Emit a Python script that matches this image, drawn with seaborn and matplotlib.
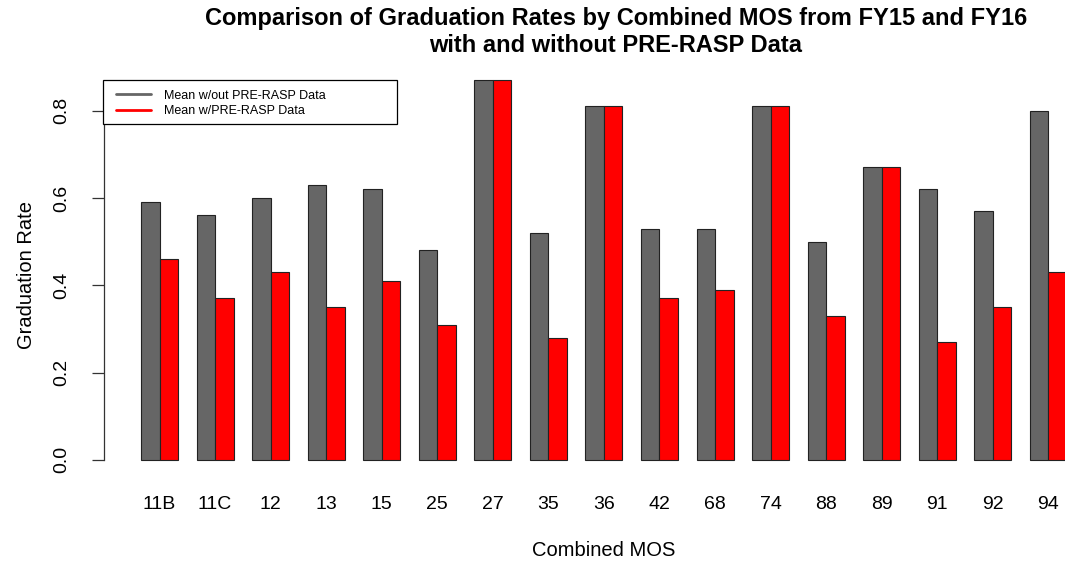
import seaborn as sns
import pandas as pd
import matplotlib.pyplot as plt
from matplotlib.lines import Line2D
from matplotlib.patches import Rectangle

mos = ["11B", "11C", "12", "13", "15", "25", "27", "35", "36",
       "42", "68", "74", "88", "89", "91", "92", "94"]
rate_without = [0.59, 0.56, 0.60, 0.63, 0.62, 0.48, 0.87, 0.52, 0.81,
                0.53, 0.53, 0.81, 0.50, 0.67, 0.62, 0.57, 0.80]
rate_with = [0.46, 0.37, 0.43, 0.35, 0.41, 0.31, 0.87, 0.28, 0.81,
             0.37, 0.39, 0.81, 0.33, 0.67, 0.27, 0.35, 0.43]
series = ["Mean w/out PRE-RASP Data", "Mean w/PRE-RASP Data"]
colors = ["#666666", "#ff0000"]

df = pd.DataFrame({
    "MOS": mos * 2,
    "rate": rate_without + rate_with,
    "series": [series[0]] * len(mos) + [series[1]] * len(mos),
})

sns.set_style("white")
plt.rcParams['font.family'] = ['Liberation Sans', 'DejaVu Sans']
plt.rcParams.update({'text.color': 'black', 'xtick.color': 'black',
                     'ytick.color': 'black', 'axes.labelcolor': 'black'})

fig = plt.figure(figsize=(10.65, 5.65), dpi=100)
ax = fig.add_axes([104 / 1065, 90 / 565, 961 / 1065, 410 / 565])

sns.barplot(df, x="MOS", y="rate", hue="series", order=mos, hue_order=series,
            palette=colors, width=2 / 3, gap=0, saturation=1,
            edgecolor="#222222", linewidth=0.8, legend=False, ax=ax)

ax.set_xlim(-1, 16.3)
ax.set_ylim(-0.0348, 0.9048)
ax.set_yticks([0, 0.2, 0.4, 0.6, 0.8])
ax.set_yticklabels(["0.0", "0.2", "0.4", "0.6", "0.8"], rotation=90, va="center")
ax.tick_params(axis="y", length=9, width=0.9, color="#333333", pad=15, labelsize=14, left=True)
ax.tick_params(axis="x", length=0, pad=15, labelsize=14)
for s in ["top", "right", "bottom"]:
    ax.spines[s].set_visible(False)
ax.spines["left"].set_bounds(0, 0.8)
ax.spines["left"].set_color("#333333")
ax.spines["left"].set_linewidth(0.9)
ax.set_xlabel("")
ax.set_ylabel("")

fig.text(27 / 1065, 1 - 275 / 565, "Graduation Rate", rotation=90,
         ha="center", va="center", fontsize=14.5)
fig.text(604 / 1065, 1 - 551 / 565, "Combined MOS", ha="center", va="center", fontsize=14.5)
fig.text(616 / 1065, 1 - 32 / 565,
         "Comparison of Graduation Rates by Combined MOS from FY15 and FY16\nwith and without PRE-RASP Data",
         ha="center", va="center", fontsize=17, fontweight="bold", linespacing=1.25)

# legend box drawn like R's (wide right padding)
fig.patches.append(Rectangle((103 / 1065, 1 - 124 / 565), 294 / 1065, 44 / 565,
                             transform=fig.transFigure, facecolor="white",
                             edgecolor="black", linewidth=0.9, zorder=5))
handles = [Line2D([], [], color=c, lw=2) for c in colors]
leg = fig.legend(handles, series, loc="upper left",
                 bbox_to_anchor=(112 / 1065, 1 - 86 / 565),
                 fontsize=9, frameon=False,
                 handlelength=2.8, borderpad=0.3, labelspacing=0.25,
                 borderaxespad=0, handletextpad=1.1)
leg.set_zorder(6)

fig.savefig("out.png", dpi=100)
